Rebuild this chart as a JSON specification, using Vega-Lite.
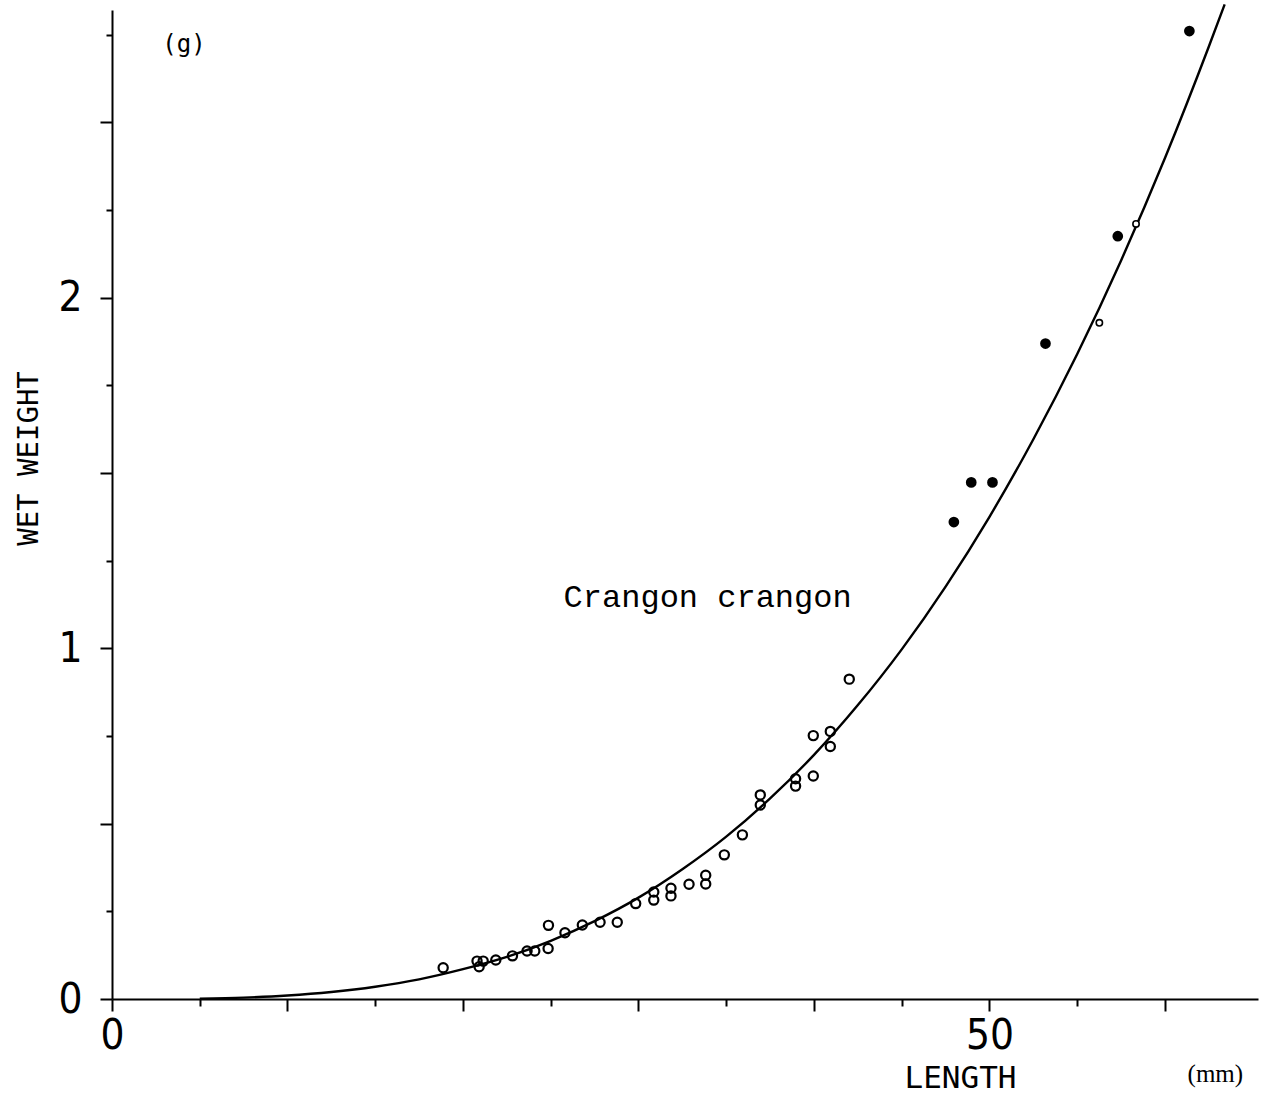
{
  "$schema": "https://vega.github.io/schema/vega-lite/v6.json",
  "autosize": {"type": "none"},
  "width": 1146,
  "height": 989,
  "padding": {"left": 112, "top": 10, "right": 13, "bottom": 94},
  "background": "white",
  "config": {
    "view": {"stroke": null},
    "axis": {"domainColor": "black", "domainWidth": 2, "tickColor": "black", "tickWidth": 2, "grid": false, "labelColor": "black", "titleColor": "black"}
  },
  "datasets": {
    "points": [
      {"length": 18.87, "weight": 0.089, "kind": "open"},
      {"length": 20.8, "weight": 0.108, "kind": "open"},
      {"length": 21.15, "weight": 0.108, "kind": "open"},
      {"length": 20.92, "weight": 0.092, "kind": "open"},
      {"length": 21.87, "weight": 0.111, "kind": "open"},
      {"length": 22.82, "weight": 0.123, "kind": "open"},
      {"length": 23.65, "weight": 0.137, "kind": "open"},
      {"length": 24.09, "weight": 0.137, "kind": "open"},
      {"length": 24.85, "weight": 0.144, "kind": "open"},
      {"length": 24.87, "weight": 0.21, "kind": "open"},
      {"length": 25.81, "weight": 0.189, "kind": "open"},
      {"length": 26.8, "weight": 0.211, "kind": "open"},
      {"length": 27.81, "weight": 0.219, "kind": "open"},
      {"length": 28.79, "weight": 0.219, "kind": "open"},
      {"length": 29.84, "weight": 0.272, "kind": "open"},
      {"length": 30.87, "weight": 0.282, "kind": "open"},
      {"length": 30.87, "weight": 0.305, "kind": "open"},
      {"length": 31.85, "weight": 0.294, "kind": "open"},
      {"length": 31.85, "weight": 0.316, "kind": "open"},
      {"length": 32.88, "weight": 0.327, "kind": "open"},
      {"length": 33.83, "weight": 0.328, "kind": "open"},
      {"length": 33.83, "weight": 0.353, "kind": "open"},
      {"length": 34.89, "weight": 0.411, "kind": "open"},
      {"length": 35.92, "weight": 0.468, "kind": "open"},
      {"length": 36.94, "weight": 0.553, "kind": "open"},
      {"length": 36.94, "weight": 0.582, "kind": "open"},
      {"length": 38.95, "weight": 0.607, "kind": "open"},
      {"length": 38.95, "weight": 0.628, "kind": "open"},
      {"length": 39.96, "weight": 0.636, "kind": "open"},
      {"length": 39.96, "weight": 0.751, "kind": "open"},
      {"length": 40.93, "weight": 0.72, "kind": "open"},
      {"length": 40.93, "weight": 0.763, "kind": "open"},
      {"length": 42.01, "weight": 0.912, "kind": "open"},
      {"length": 56.26, "weight": 1.928, "kind": "small"},
      {"length": 58.35, "weight": 2.21, "kind": "small"},
      {"length": 47.97, "weight": 1.36, "kind": "filled"},
      {"length": 48.96, "weight": 1.473, "kind": "filled"},
      {"length": 50.17, "weight": 1.473, "kind": "filled"},
      {"length": 53.19, "weight": 1.869, "kind": "filled"},
      {"length": 57.31, "weight": 2.175, "kind": "filled"},
      {"length": 61.39, "weight": 2.76, "kind": "filled"}
    ],
    "curve": [
      {"length": 5, "weight": 0.001},
      {"length": 7.5, "weight": 0.004},
      {"length": 10, "weight": 0.01},
      {"length": 12.5, "weight": 0.02},
      {"length": 15, "weight": 0.035},
      {"length": 17.5, "weight": 0.056},
      {"length": 20, "weight": 0.085},
      {"length": 22.5, "weight": 0.12},
      {"length": 25, "weight": 0.166},
      {"length": 27.5, "weight": 0.222},
      {"length": 30, "weight": 0.289},
      {"length": 32.5, "weight": 0.37},
      {"length": 35, "weight": 0.463},
      {"length": 37.5, "weight": 0.572},
      {"length": 40, "weight": 0.696},
      {"length": 42.5, "weight": 0.838},
      {"length": 45, "weight": 0.997},
      {"length": 47.5, "weight": 1.176},
      {"length": 50, "weight": 1.375},
      {"length": 52.5, "weight": 1.596},
      {"length": 55, "weight": 1.839},
      {"length": 57.5, "weight": 2.106},
      {"length": 60, "weight": 2.398},
      {"length": 62.5, "weight": 2.716},
      {"length": 63.4, "weight": 2.836}
    ]
  },
  "layer": [
    {
      "data": {"name": "curve"},
      "mark": {"type": "line", "color": "black", "strokeWidth": 2.4, "interpolate": "monotone"},
      "encoding": {
        "x": {
          "field": "length", "type": "quantitative",
          "scale": {"domain": [0, 65.3], "nice": false, "zero": false},
          "axis": {
            "title": "LENGTH",
            "titleFont": "DejaVu Sans Mono", "titleFontSize": 31, "titleFontWeight": "normal",
            "titleX": 848, "titleY": 88, "titleAlign": "center", "titleBaseline": "alphabetic", "titleAnchor": null,
            "values": [0, 5, 10, 15, 20, 25, 30, 35, 40, 45, 50, 55, 60],
            "labelExpr": "datum.value == 0 || datum.value == 50 ? format(datum.value, 'd') : ''",
            "labelFont": "DejaVu Sans Condensed, Liberation Sans Narrow, DejaVu Sans, sans-serif", "labelFontSize": 42, "labelPadding": 4,
            "labelFlush": false, "labelOverlap": false,
            "tickSize": {"condition": {"test": "datum.value % 10 === 0", "value": 12}, "value": 7}
          }
        },
        "y": {
          "field": "weight", "type": "quantitative",
          "scale": {"domain": [0, 2.82], "nice": false, "zero": false},
          "axis": {
            "title": "WET WEIGHT",
            "titleFont": "DejaVu Sans Mono", "titleFontSize": 29, "titleFontWeight": "normal",
            "titleX": -75, "titleY": 448, "titleAlign": "center", "titleBaseline": "alphabetic", "titleAnchor": null, "titleAngle": -90,
            "values": [0, 0.25, 0.5, 0.75, 1, 1.25, 1.5, 1.75, 2, 2.25, 2.5, 2.75],
            "labelExpr": "datum.value == 0 || datum.value == 1 || datum.value == 2 ? format(datum.value, 'd') : ''",
            "labelFont": "DejaVu Sans Condensed, Liberation Sans Narrow, DejaVu Sans, sans-serif", "labelFontSize": 42, "labelPadding": 18,
            "labelFlush": false, "labelOverlap": false,
            "tickSize": {"condition": {"test": "datum.value % 0.5 === 0", "value": 12}, "value": 6}
          }
        }
      }
    },
    {
      "data": {"name": "points"},
      "transform": [{"filter": "datum.kind == 'open'"}],
      "mark": {"type": "point", "shape": "circle", "filled": false, "stroke": "black", "strokeWidth": 2.2, "size": 85, "opacity": 1},
      "encoding": {
        "x": {"field": "length", "type": "quantitative"},
        "y": {"field": "weight", "type": "quantitative"}
      }
    },
    {
      "data": {"name": "points"},
      "transform": [{"filter": "datum.kind == 'small'"}],
      "mark": {"type": "point", "shape": "circle", "filled": true, "fill": "white", "stroke": "black", "strokeWidth": 1.6, "size": 40, "opacity": 1},
      "encoding": {
        "x": {"field": "length", "type": "quantitative"},
        "y": {"field": "weight", "type": "quantitative"}
      }
    },
    {
      "data": {"name": "points"},
      "transform": [{"filter": "datum.kind == 'filled'"}],
      "mark": {"type": "point", "shape": "circle", "filled": true, "color": "black", "size": 115, "opacity": 1},
      "encoding": {
        "x": {"field": "length", "type": "quantitative"},
        "y": {"field": "weight", "type": "quantitative"}
      }
    },
    {
      "data": {"values": [{"label": "Crangon crangon"}]},
      "mark": {"type": "text", "font": "Liberation Mono", "fontSize": 32, "color": "black", "align": "center", "baseline": "middle"},
      "encoding": {
        "x": {"datum": 33.94, "type": "quantitative"},
        "y": {"datum": 1.147, "type": "quantitative"},
        "text": {"field": "label"}
      }
    },
    {
      "data": {"values": [{"label": "(g)"}]},
      "mark": {"type": "text", "font": "DejaVu Sans Mono", "fontSize": 24, "color": "black", "align": "center", "baseline": "middle"},
      "encoding": {
        "x": {"datum": 4.1, "type": "quantitative"},
        "y": {"datum": 2.719, "type": "quantitative"},
        "text": {"field": "label"}
      }
    },
    {
      "data": {"values": [{"label": "(mm)"}]},
      "mark": {"type": "text", "font": "Liberation Serif", "fontSize": 25, "color": "black", "align": "center", "baseline": "middle"},
      "encoding": {
        "x": {"datum": 62.87, "type": "quantitative"},
        "y": {"datum": -0.214, "type": "quantitative"},
        "text": {"field": "label"}
      }
    }
  ]
}
